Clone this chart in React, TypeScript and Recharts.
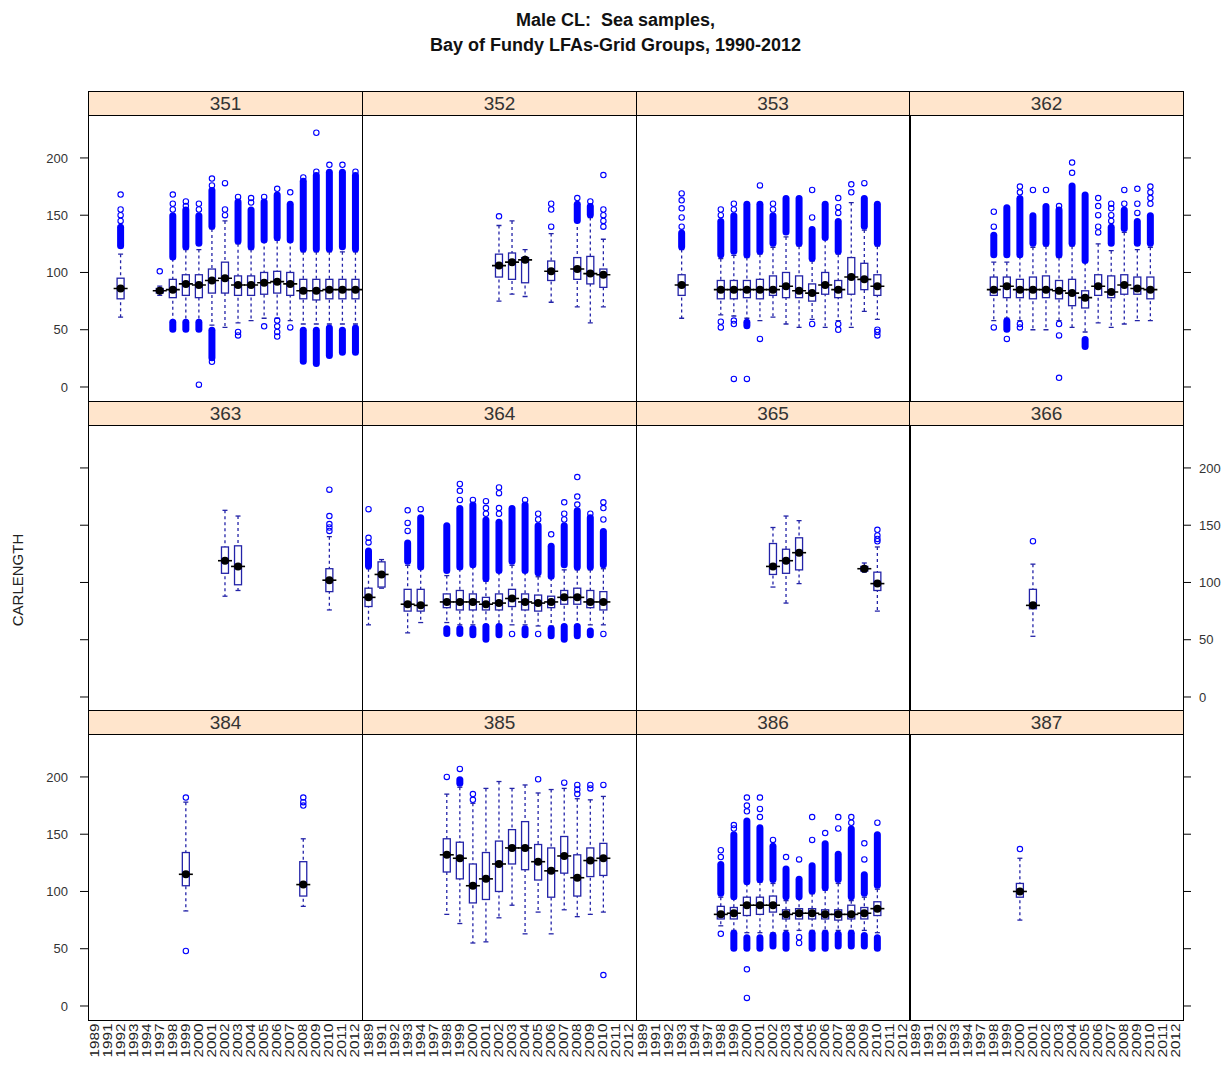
import React from 'react';
import { Bar, ComposedChart, Scatter, XAxis, YAxis } from 'recharts';

// [year, lowWhisker, q1, median, q3, highWhisker]
type Box = [number, number, number, number, number, number];
// [year, from, to] : a run of outliers so dense it prints as a solid column
type Band = [number, number, number];
// [year, value] : single outlier
type Pt = [number, number];

const years = [1989, 1991, 1992, 1993, 1994, 1997, 1998, 1999, 2000, 2001, 2002, 2003, 2004, 2005, 2006, 2007, 2008, 2009, 2010, 2011, 2012];
const yTicks = [0, 50, 100, 150, 200];

const boxes351: Box[] = [
  [1992, 61, 77, 86, 95, 116], [1997, 80, 82, 84, 86, 88], [1998, 58, 78, 85, 94, 112],
  [1999, 58, 80, 90, 98, 120], [2000, 58, 78, 89, 98, 120], [2001, 54, 82, 93, 103, 138],
  [2002, 52, 82, 95, 109, 145], [2003, 56, 80, 89, 97, 125], [2004, 58, 80, 89, 97, 120],
  [2005, 60, 81, 91, 100, 128], [2006, 60, 82, 92, 101, 128], [2007, 58, 80, 90, 100, 128],
  [2008, 55, 77, 84, 94, 118], [2009, 55, 76, 84, 94, 118], [2010, 55, 77, 85, 94, 118],
  [2011, 55, 77, 85, 94, 118], [2012, 55, 77, 85, 94, 118],
];
const bands351: Band[] = [
  [1992, 123, 140], [1998, 113, 150], [1998, 50, 57], [1999, 122, 155], [1999, 50, 57],
  [2000, 125, 150], [2000, 50, 57], [2001, 140, 172], [2001, 25, 50], [2003, 127, 162],
  [2004, 122, 155], [2005, 128, 162], [2006, 130, 168], [2007, 128, 160],
  [2008, 120, 180], [2008, 22, 50], [2009, 120, 185], [2009, 20, 50], [2010, 120, 188], [2010, 27, 52],
  [2011, 122, 188], [2011, 30, 50], [2012, 120, 185], [2012, 30, 52],
];
const pts351: Pt[] = [
  [1992, 168], [1992, 155], [1992, 150], [1992, 145], [1997, 101], [1998, 155], [1998, 160], [1998, 168],
  [1999, 158], [1999, 162], [2000, 155], [2000, 160], [2000, 2], [2001, 176], [2001, 182], [2001, 22],
  [2002, 150], [2002, 155], [2002, 178], [2003, 166], [2003, 48], [2003, 45], [2004, 161], [2004, 165],
  [2005, 166], [2005, 53], [2006, 173], [2006, 58], [2006, 53], [2006, 48], [2006, 44], [2007, 170], [2007, 52],
  [2008, 183], [2009, 188], [2009, 222], [2010, 194], [2011, 194], [2012, 188],
];

const boxes352: Box[] = [
  [2002, 75, 96, 106, 116, 141], [2003, 81, 94, 109, 117, 145], [2004, 79, 91, 111, 113, 120],
  [2006, 74, 93, 101, 110, 134], [2008, 70, 94, 103, 113, 145], [2009, 56, 90, 99, 114, 148],
  [2010, 70, 87, 98, 103, 129],
];
const bands352: Band[] = [[2008, 145, 160], [2009, 150, 158]];
const pts352: Pt[] = [
  [2002, 149], [2006, 140], [2006, 155], [2006, 160], [2008, 165], [2009, 162],
  [2010, 140], [2010, 145], [2010, 150], [2010, 155], [2010, 185],
];

const boxes353: Box[] = [
  [1993, 60, 80, 89, 98, 120], [1998, 63, 77, 85, 93, 112], [1999, 62, 77, 85, 93, 115],
  [2000, 60, 78, 85, 93, 113], [2001, 58, 77, 85, 94, 116], [2002, 61, 80, 85, 97, 122],
  [2003, 55, 78, 88, 100, 131], [2004, 52, 78, 84, 97, 123], [2005, 59, 75, 82, 90, 110],
  [2006, 52, 81, 89, 100, 129], [2007, 58, 78, 85, 93, 116], [2008, 52, 81, 96, 113, 161],
  [2009, 66, 85, 94, 108, 137], [2010, 59, 80, 88, 98, 123],
];
const bands353: Band[] = [
  [1993, 122, 135], [1998, 115, 145], [1999, 118, 150], [2000, 115, 160], [2000, 53, 57],
  [2001, 118, 160], [2002, 125, 150], [2003, 135, 165], [2004, 125, 165], [2005, 112, 138],
  [2006, 130, 160], [2007, 118, 145], [2009, 140, 165], [2010, 125, 160],
];
const pts353: Pt[] = [
  [1993, 140], [1993, 148], [1993, 156], [1993, 163], [1993, 169], [1998, 150], [1998, 155], [1998, 57], [1998, 52],
  [1999, 155], [1999, 160], [1999, 55], [1999, 58], [1999, 7], [2000, 7], [2001, 176], [2001, 42],
  [2002, 155], [2002, 160], [2005, 148], [2005, 172], [2005, 55], [2007, 152], [2007, 157], [2007, 165],
  [2007, 55], [2007, 50], [2008, 170], [2008, 177], [2009, 178], [2010, 50], [2010, 48], [2010, 45],
];

const boxes362: Box[] = [
  [1998, 58, 80, 85, 96, 109], [1999, 60, 78, 88, 96, 109], [2000, 58, 78, 85, 94, 114],
  [2001, 50, 77, 85, 96, 122], [2002, 50, 78, 85, 97, 123], [2003, 58, 77, 84, 93, 113],
  [2004, 52, 71, 82, 94, 123], [2005, 48, 69, 78, 84, 109], [2006, 56, 80, 88, 98, 125],
  [2007, 52, 78, 83, 97, 119], [2008, 55, 81, 89, 98, 135], [2009, 58, 81, 86, 96, 120],
  [2010, 58, 77, 85, 96, 122],
];
const bands362: Band[] = [
  [1998, 115, 133], [1999, 115, 157], [1999, 50, 58], [2000, 115, 165], [2001, 125, 150],
  [2002, 125, 158], [2003, 115, 155], [2004, 125, 176], [2005, 110, 168], [2005, 35, 42],
  [2007, 125, 140], [2008, 138, 155], [2009, 125, 145], [2010, 125, 150],
];
const pts362: Pt[] = [
  [1998, 140], [1998, 153], [1998, 52], [1999, 42], [2000, 170], [2000, 175], [2000, 52], [2000, 55],
  [2001, 172], [2002, 172], [2003, 158], [2003, 55], [2003, 45], [2003, 8], [2004, 187], [2004, 196],
  [2006, 135], [2006, 140], [2006, 150], [2006, 158], [2006, 165], [2007, 145], [2007, 150], [2007, 156],
  [2007, 160], [2008, 160], [2008, 172], [2009, 152], [2009, 160], [2009, 173],
  [2010, 160], [2010, 165], [2010, 170], [2010, 175],
];

const boxes363: Box[] = [
  [2002, 88, 108, 119, 131, 163], [2003, 93, 98, 114, 132, 158], [2010, 76, 92, 102, 112, 140],
];
const bands363: Band[] = [];
const pts363: Pt[] = [[2010, 145], [2010, 148], [2010, 151], [2010, 158], [2010, 181]];

const boxes364: Box[] = [
  [1989, 63, 79, 87, 95, 112], [1991, 95, 96, 107, 118, 120], [1993, 56, 75, 81, 94, 115],
  [1994, 65, 75, 80, 94, 112], [1998, 65, 78, 83, 90, 106], [1999, 63, 76, 83, 93, 112],
  [2000, 63, 76, 83, 90, 114], [2001, 63, 76, 81, 87, 101], [2002, 63, 76, 82, 90, 109],
  [2003, 63, 79, 86, 94, 115], [2004, 63, 76, 83, 90, 109], [2005, 62, 75, 82, 89, 105],
  [2006, 62, 78, 83, 88, 104], [2007, 63, 81, 87, 93, 111], [2008, 63, 81, 87, 95, 111],
  [2009, 63, 78, 83, 93, 111], [2010, 63, 76, 83, 92, 112],
];
const bands364: Band[] = [
  [1989, 114, 128], [1993, 118, 135], [1994, 113, 157], [1998, 110, 150], [1998, 55, 60],
  [1999, 113, 165], [1999, 55, 60], [2000, 115, 168], [2000, 54, 60], [2001, 103, 155], [2001, 50, 62],
  [2002, 110, 153], [2002, 54, 62], [2003, 118, 165], [2004, 110, 168], [2004, 54, 60],
  [2005, 108, 150], [2006, 105, 132], [2006, 53, 60], [2007, 115, 150], [2007, 50, 62],
  [2008, 113, 163], [2008, 53, 62], [2009, 113, 157], [2009, 54, 58], [2010, 115, 145],
];
const pts364: Pt[] = [
  [1989, 135], [1989, 139], [1989, 164], [1993, 145], [1993, 152], [1993, 163], [1994, 164],
  [1999, 172], [1999, 180], [1999, 186], [2000, 172], [2001, 160], [2001, 165], [2001, 171],
  [2002, 160], [2002, 165], [2002, 178], [2002, 183], [2003, 55], [2004, 172], [2005, 155], [2005, 160],
  [2005, 55], [2006, 142], [2007, 155], [2007, 160], [2007, 170], [2008, 168], [2008, 175], [2008, 192],
  [2009, 160], [2010, 155], [2010, 165], [2010, 170], [2010, 55],
];

const boxes365: Box[] = [
  [2002, 96, 107, 114, 134, 148], [2003, 82, 108, 119, 129, 158], [2004, 99, 111, 126, 139, 154],
  [2009, 109, 110, 112, 114, 117], [2010, 75, 93, 99, 109, 131],
];
const bands365: Band[] = [];
const pts365: Pt[] = [[2010, 136], [2010, 138], [2010, 141], [2010, 146]];

const boxes366: Box[] = [[2001, 53, 77, 80, 94, 116]];
const bands366: Band[] = [];
const pts366: Pt[] = [[2001, 136]];

const boxes384: Box[] = [[1999, 83, 105, 115, 134, 178], [2008, 87, 96, 106, 126, 146]];
const bands384: Band[] = [];
const pts384: Pt[] = [[1999, 182], [1999, 48], [2008, 175], [2008, 178], [2008, 182]];

const boxes385: Box[] = [
  [1998, 80, 117, 132, 146, 185], [1999, 72, 111, 129, 143, 191], [2000, 55, 90, 105, 124, 177],
  [2001, 56, 93, 111, 134, 190], [2002, 77, 100, 124, 144, 196], [2003, 88, 124, 138, 154, 190],
  [2004, 63, 119, 138, 161, 193], [2005, 82, 110, 126, 141, 186], [2006, 63, 95, 118, 138, 189],
  [2007, 84, 116, 131, 148, 190], [2008, 78, 96, 112, 132, 181], [2009, 80, 113, 127, 138, 180],
  [2010, 82, 114, 129, 142, 183],
];
const bands385: Band[] = [[1999, 194, 198]];
const pts385: Pt[] = [
  [1998, 200], [1999, 207], [2000, 180], [2000, 185], [2005, 198], [2007, 195], [2008, 185], [2008, 189],
  [2008, 193], [2009, 190], [2009, 193], [2010, 193], [2010, 27],
];

const boxes386: Box[] = [
  [1998, 70, 76, 80, 87, 95], [1999, 66, 76, 81, 86, 94], [2000, 64, 79, 88, 95, 107],
  [2001, 64, 80, 88, 95, 108], [2002, 64, 82, 88, 96, 107], [2003, 66, 76, 80, 84, 92],
  [2004, 66, 76, 81, 85, 94], [2005, 66, 76, 81, 85, 98], [2006, 66, 76, 80, 84, 101],
  [2007, 66, 75, 80, 84, 107], [2008, 66, 76, 80, 88, 92], [2009, 66, 76, 81, 86, 95],
  [2010, 64, 79, 85, 91, 102],
];
const bands386: Band[] = [
  [1998, 98, 124], [1999, 95, 150], [1999, 50, 64], [2000, 108, 162], [2000, 50, 60],
  [2001, 110, 156], [2001, 50, 60], [2002, 110, 140], [2002, 52, 62], [2003, 95, 120], [2003, 50, 63],
  [2004, 95, 111], [2005, 100, 123], [2005, 50, 64], [2006, 103, 142], [2006, 50, 64],
  [2007, 110, 133], [2007, 52, 63], [2008, 95, 155], [2008, 52, 64], [2009, 98, 115], [2009, 52, 62],
  [2010, 105, 150], [2010, 50, 60],
];
const pts386: Pt[] = [
  [1998, 130], [1998, 136], [1998, 63], [1999, 155], [1999, 158], [2000, 170], [2000, 175], [2000, 182],
  [2000, 32], [2000, 7], [2001, 165], [2001, 172], [2001, 182], [2002, 145], [2003, 130], [2004, 128],
  [2004, 55], [2004, 60], [2005, 145], [2005, 165], [2006, 151], [2007, 155], [2007, 165],
  [2008, 160], [2008, 165], [2009, 128], [2009, 142], [2010, 160],
];

const boxes387: Box[] = [[2000, 75, 95, 100, 107, 129]];
const bands387: Band[] = [];
const pts387: Pt[] = [[2000, 137]];

const panels = [
  { code: '351', boxes: boxes351, bands: bands351, pts: pts351 },
  { code: '352', boxes: boxes352, bands: bands352, pts: pts352 },
  { code: '353', boxes: boxes353, bands: bands353, pts: pts353 },
  { code: '362', boxes: boxes362, bands: bands362, pts: pts362 },
  { code: '363', boxes: boxes363, bands: bands363, pts: pts363 },
  { code: '364', boxes: boxes364, bands: bands364, pts: pts364 },
  { code: '365', boxes: boxes365, bands: bands365, pts: pts365 },
  { code: '366', boxes: boxes366, bands: bands366, pts: pts366 },
  { code: '384', boxes: boxes384, bands: bands384, pts: pts384 },
  { code: '385', boxes: boxes385, bands: bands385, pts: pts385 },
  { code: '386', boxes: boxes386, bands: bands386, pts: pts386 },
  { code: '387', boxes: boxes387, bands: bands387, pts: pts387 },
];

const FONT = '"Liberation Sans", Arial, sans-serif';
const BOX_COL = '#2323a8';
const OUT_COL = '#0000ff';
const COL_X = [88, 362, 635.5, 909];
const PANEL_W = 274;
const STRIP_TOP = [91, 400.5, 710];
const STRIP_H = 24;
const PANEL_H = 285.5;
const Y_DOMAIN: [number, number] = [-11.8, 237.5];

const Whisker = (props: any) => {
  const { x, y, width, height, payload } = props;
  if (!payload || !payload.whisk) return <g />;
  const cx = x + width / 2;
  return (
    <g stroke={BOX_COL} strokeWidth={1.3} fill="none">
      <line x1={cx} x2={cx} y1={y} y2={y + height} strokeDasharray="3 3" />
      <line x1={cx - 2.5} x2={cx + 2.5} y1={y} y2={y} />
      <line x1={cx - 2.5} x2={cx + 2.5} y1={y + height} y2={y + height} />
    </g>
  );
};

const BoxShape = (props: any) => {
  const { x, y, width, height, payload } = props;
  if (!payload || !payload.box) return <g />;
  const cx = x + width / 2;
  return <rect x={cx - 3.5} y={y} width={7} height={Math.max(height, 1)} fill="#fff" stroke={BOX_COL} strokeWidth={1.3} />;
};

const bandShape = (key: string) => (props: any) => {
  const { x, y, width, height, payload } = props;
  if (!payload || !payload[key]) return <g />;
  const cx = x + width / 2;
  return <rect x={cx - 3.5} y={y - 3} width={7} height={height + 6} rx={3.5} fill={OUT_COL} />;
};

const Ring = (props: any) => (
  <circle cx={props.cx} cy={props.cy} r={2.7} fill="none" stroke={OUT_COL} strokeWidth={1.1} />
);

const MedianDot = (props: any) => (
  <g>
    <line x1={props.cx - 7} x2={props.cx + 7} y1={props.cy} y2={props.cy} stroke="#000" strokeWidth={1.6} />
    <circle cx={props.cx} cy={props.cy} r={4} fill="#000" />
  </g>
);

const YearTick = (props: any) => {
  const { x, y, payload } = props;
  const ty = y + 4;
  return (
    <text x={x} y={ty} transform={`rotate(-90 ${x} ${ty})`} textAnchor="end" dominantBaseline="central"
      fontSize={12} textLength={34} lengthAdjust="spacingAndGlyphs" fill="#222" fontFamily={FONT}>
      {payload.value}
    </text>
  );
};

const NoLabel = () => <g />;

const Panel = ({ p, row, col }: { p: typeof panels[number]; row: number; col: number }) => {
  const leftW = col === 0 ? (row === 1 ? 10 : 88) : 0;
  const rightW = col === 3 ? (row === 1 ? 50 : 10) : 0;
  const bottomH = row === 2 ? 48 : 0;

  const rows = years.map((yr) => {
    const b = p.boxes.find((r) => r[0] === yr);
    const up = b ? p.bands.find((r) => r[0] === yr && r[1] > b[3]) : undefined;
    const dn = b ? p.bands.find((r) => r[0] === yr && r[2] < b[3]) : undefined;
    return {
      year: String(yr),
      whisk: b ? [b[1], b[5]] : null,
      box: b ? [b[2], b[4]] : null,
      up: up ? [up[1], up[2]] : null,
      dn: dn ? [dn[1], dn[2]] : null,
    };
  });
  const outliers = p.pts.map(([yr, v]) => ({ year: String(yr), v }));
  const medians = p.boxes.map((b) => ({ year: String(b[0]), med: b[3] }));

  let yAxis = <YAxis type="number" domain={Y_DOMAIN} allowDataOverflow ticks={yTicks} hide />;
  if (leftW || rightW) {
    const labels = (col === 0 && row !== 1) || (col === 3 && row === 1);
    yAxis = (
      <YAxis
        type="number"
        domain={Y_DOMAIN}
        allowDataOverflow
        ticks={yTicks}
        interval={0}
        orientation={col === 0 ? 'left' : 'right'}
        width={col === 0 ? leftW : rightW}
        axisLine={false}
        tickSize={8}
        tickMargin={col === 0 ? 12 : 8}
        tickLine={{ stroke: '#000' }}
        tick={labels ? { fontSize: 13, fill: '#333', fontFamily: FONT } : NoLabel}
      />
    );
  }

  return (
    <div style={{ position: 'absolute', left: COL_X[col] - leftW, top: STRIP_TOP[row] + STRIP_H }}>
      <ComposedChart
        width={PANEL_W + leftW + rightW}
        height={PANEL_H + bottomH}
        data={rows}
        margin={{ top: 0, right: 0, bottom: 0, left: 0 }}
      >
        <XAxis
          xAxisId="w"
          dataKey="year"
          type="category"
          allowDuplicatedCategory={false}
          hide={row !== 2}
          height={bottomH}
          interval={0}
          axisLine={false}
          tickLine={false}
          tickSize={0}
          tickMargin={0}
          tick={YearTick}
        />
        <XAxis xAxisId="b" dataKey="year" type="category" height={0} hide />
        <XAxis xAxisId="u" dataKey="year" type="category" height={0} hide />
        <XAxis xAxisId="d" dataKey="year" type="category" height={0} hide />
        {yAxis}
        <Bar xAxisId="w" dataKey="whisk" barSize={7} shape={Whisker} isAnimationActive={false} />
        <Bar xAxisId="u" dataKey="up" barSize={7} shape={bandShape('up')} isAnimationActive={false} />
        <Bar xAxisId="d" dataKey="dn" barSize={7} shape={bandShape('dn')} isAnimationActive={false} />
        <Bar xAxisId="b" dataKey="box" barSize={7} shape={BoxShape} isAnimationActive={false} />
        <Scatter xAxisId="w" data={outliers} dataKey="v" shape={Ring} isAnimationActive={false} />
        <Scatter xAxisId="w" data={medians} dataKey="med" shape={MedianDot} isAnimationActive={false} />
      </ComposedChart>
    </div>
  );
};

const App = () => {
  return (
    <div style={{ position: 'relative', width: 1231, height: 1065, background: '#fff', fontFamily: FONT }}>
      <style>{'body{margin:0}'}</style>
      <div style={{ position: 'absolute', top: 8, left: 0, width: 1231, textAlign: 'center', fontWeight: 'bold', fontSize: 18, lineHeight: '25px', color: '#111' }}>
        <div>Male CL:&nbsp; Sea samples,</div>
        <div>Bay of Fundy LFAs-Grid Groups, 1990-2012</div>
      </div>
      <div style={{ position: 'absolute', left: -82, top: 570, width: 200, height: 20, lineHeight: '20px', textAlign: 'center', fontSize: 15, color: '#222', transform: 'rotate(-90deg)' }}>
        CARLENGTH
      </div>

      {panels.map((p, i) => (
        <Panel key={p.code} p={p} row={Math.floor(i / 4)} col={i % 4} />
      ))}

      {panels.map((p, i) => {
        const row = Math.floor(i / 4);
        const col = i % 4;
        return (
          <div key={'f' + p.code} style={{
            position: 'absolute', left: COL_X[col], top: STRIP_TOP[row], width: PANEL_W + 1,
            height: STRIP_H + PANEL_H + 1, border: '1px solid #000', boxSizing: 'border-box', pointerEvents: 'none',
          }}>
            <div style={{ height: STRIP_H - 1, background: '#ffe5cc', borderBottom: '1px solid #000', textAlign: 'center', fontSize: 19, lineHeight: '23px', color: '#333' }}>
              {p.code}
            </div>
          </div>
        );
      })}
    </div>
  );
};

export default App;
